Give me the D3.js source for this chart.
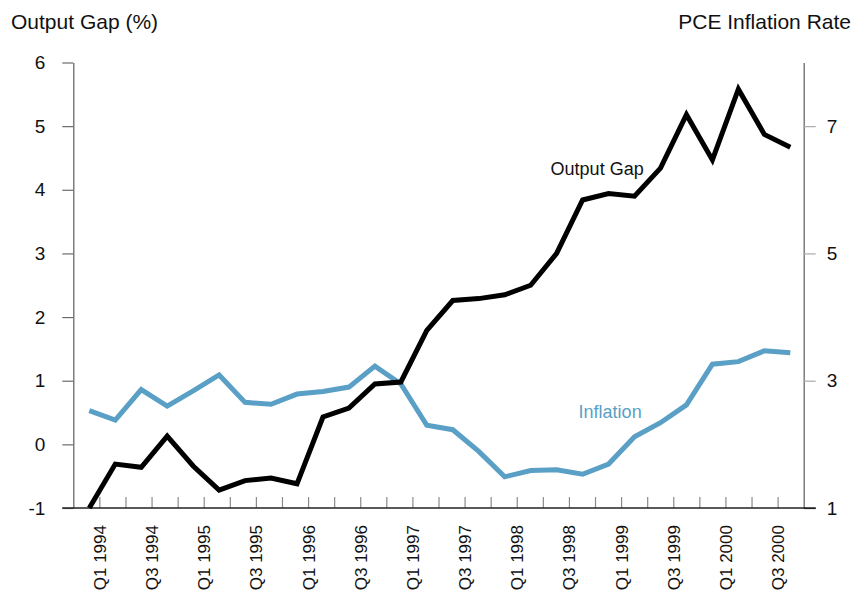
<!DOCTYPE html>
<html>
<head>
<meta charset="utf-8">
<script src="https://cdnjs.cloudflare.com/ajax/libs/d3/7.8.5/d3.min.js"></script>
<style>
  body { margin: 0; background: #fff; }
  text { font-family: "Liberation Sans", Arial, Helvetica, sans-serif; fill: #111; }
</style>
</head>
<body>
<script>
// quarters, Q1 1994 .. Q4 2000
const quarters = [
  "Q1 1994","Q2 1994","Q3 1994","Q4 1994",
  "Q1 1995","Q2 1995","Q3 1995","Q4 1995",
  "Q1 1996","Q2 1996","Q3 1996","Q4 1996",
  "Q1 1997","Q2 1997","Q3 1997","Q4 1997",
  "Q1 1998","Q2 1998","Q3 1998","Q4 1998",
  "Q1 1999","Q2 1999","Q3 1999","Q4 1999",
  "Q1 2000","Q2 2000","Q3 2000","Q4 2000"
];

// output gap, percent (left axis)
const outputGap = [
  -1.00, -0.31, -0.36, 0.13, -0.34, -0.72, -0.57, -0.53,
  -0.62, 0.43, 0.57, 0.95, 0.98, 1.79, 2.26, 2.29,
  2.35, 2.50, 3.00, 3.84, 3.94, 3.90, 4.34, 5.18,
  4.47, 5.58, 4.87, 4.67
];

// PCE inflation rate (right axis)
const inflation = [
  2.53, 2.38, 2.86, 2.60, 2.84, 3.09, 2.66, 2.63,
  2.79, 2.83, 2.90, 3.23, 2.95, 2.30, 2.23, 1.89,
  1.49, 1.59, 1.60, 1.53, 1.69, 2.12, 2.34, 2.62,
  3.26, 3.30, 3.47, 3.44
];

const leftTicks = [-1, 0, 1, 2, 3, 4, 5, 6];
const rightTicks = [1, 3, 5, 7];

const width = 862, height = 601;
const blue = "#5a9fc5";

let svg = d3.select("body").append("svg")
    .attr("width", width)
    .attr("height", height);

// x frame: one unit per quarter, axis frame runs from -1 to 27
let x = d3.scaleLinear().domain([-1, 27]).range([73.3, 803.7]);
// the plotted points use their own, slightly tighter spacing
let xp = d3.scaleLinear().domain([0, quarters.length - 1]).range([89.3, 790.3]);

let yL = d3.scaleLinear().domain([-1, 6]).range([508, 62.5]);
let yR = d3.scaleLinear().domain([1, 8]).range([508, 62.5]);

// left axis
let left = svg.append("g").attr("transform", `translate(${x(-1)},0)`)
    .call(d3.axisLeft(yL).tickValues(leftTicks).tickSize(11).tickPadding(17).tickSizeOuter(0)
        .tickFormat(d => String(d)));
left.select(".domain").attr("stroke", "#6a6a6a").attr("stroke-width", 1.3);
left.selectAll(".tick line").attr("stroke", "#6a6a6a").attr("stroke-width", 1.2);
left.selectAll(".tick text").style("font-size", "19px").attr("font-family", null);

// right axis
let right = svg.append("g").attr("transform", `translate(${x(27)},0)`)
    .call(d3.axisRight(yR).tickValues(rightTicks).tickSize(12).tickPadding(11).tickSizeOuter(0)
        .tickFormat(d => String(d)));
right.select(".domain").attr("stroke", "#6a6a6a").attr("stroke-width", 1.3);
right.selectAll(".tick line").attr("stroke", d => d === 1 ? "#222" : "#aaa").attr("stroke-width", 1.2);
right.selectAll(".tick text").style("font-size", "19px").attr("font-family", null);

// bottom axis: tick every quarter, labels on Q1 and Q3
let tickIdx = d3.range(0, 27);
let bottom = svg.append("g").attr("transform", `translate(0,${yL(-1)})`)
    .call(d3.axisBottom(x).tickValues(tickIdx).tickSize(-11).tickSizeOuter(0)
        .tickFormat(i => i % 2 === 0 ? quarters[i] : ""));
bottom.select(".domain").remove();
bottom.append("line")
    .attr("x1", x(-1) - 11).attr("x2", x(27) + 12)
    .attr("stroke", "#222").attr("stroke-width", 1.5);
bottom.selectAll(".tick line").attr("stroke", "#8a8a8a").attr("stroke-width", 1.2);
bottom.selectAll(".tick text")
    .attr("font-family", null)
    .style("font-size", "17px")
    .attr("text-anchor", "end")
    .attr("y", 0).attr("dy", "0.35em")
    .attr("transform", "translate(0,17) rotate(-90)");

// lines
let lineL = d3.line().x((d, i) => xp(i)).y(d => yL(d));
let lineR = d3.line().x((d, i) => xp(i)).y(d => yR(d));

svg.append("path")
    .datum(inflation)
    .attr("d", lineR)
    .attr("fill", "none")
    .attr("stroke", blue)
    .attr("stroke-width", 5)
    .attr("stroke-linejoin", "miter");

svg.append("path")
    .datum(outputGap)
    .attr("d", lineL)
    .attr("fill", "none")
    .attr("stroke", "#000")
    .attr("stroke-width", 5)
    .attr("stroke-linejoin", "miter");

// series labels
svg.append("text")
    .attr("x", xp(19) - 32).attr("y", 175)
    .style("font-size", "18px")
    .text("Output Gap");

svg.append("text")
    .attr("x", xp(19) - 4).attr("y", 418)
    .style("font-size", "18px")
    .style("fill", blue)
    .text("Inflation");

// axis titles
svg.append("text")
    .attr("x", 11).attr("y", 29)
    .style("font-size", "21px")
    .text("Output Gap (%)");

svg.append("text")
    .attr("x", 851).attr("y", 29)
    .attr("text-anchor", "end")
    .style("font-size", "21px")
    .text("PCE Inflation Rate");
</script>
</body>
</html>
